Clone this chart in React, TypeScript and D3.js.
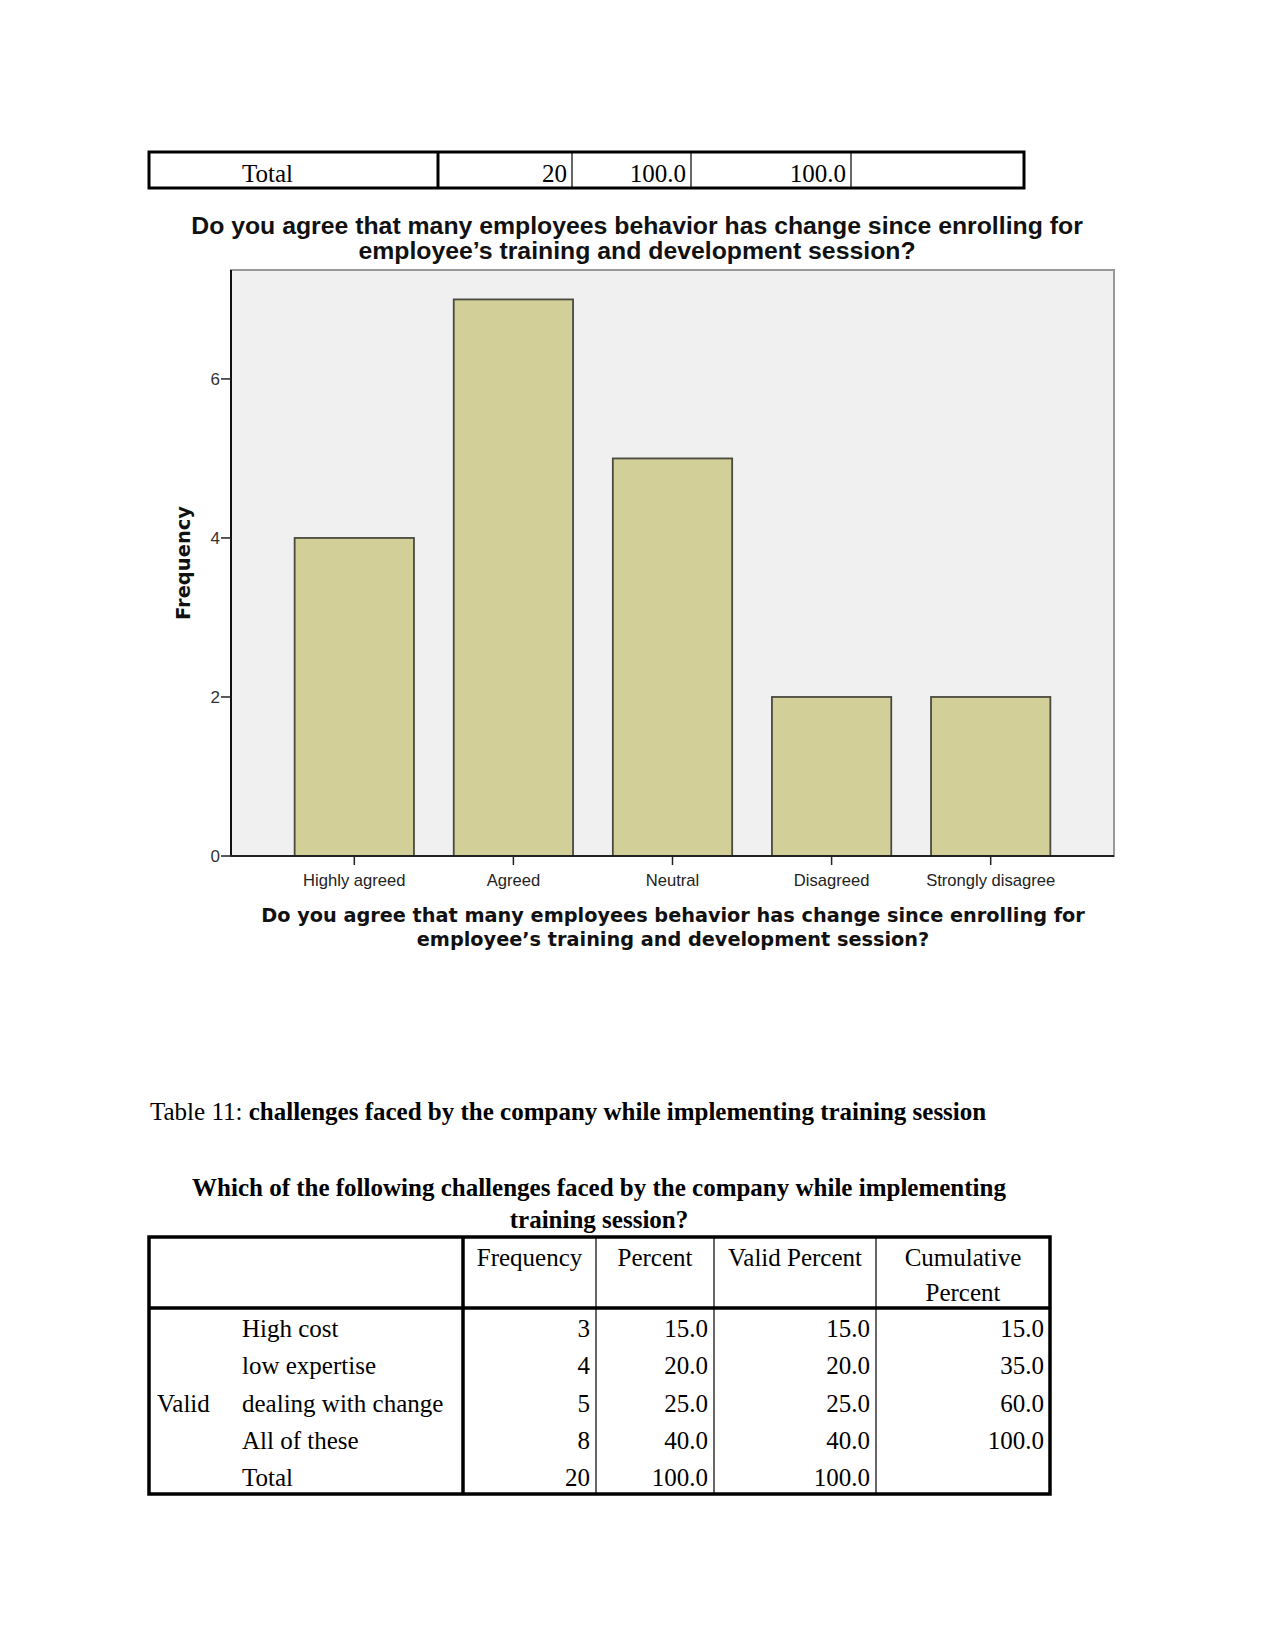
import React from "react";
import * as d3 from "d3";

const categories = ["Highly agreed", "Agreed", "Neutral", "Disagreed", "Strongly disagree"];
const frequencies = [4, 7, 5, 2, 2];
const yTicks = [0, 2, 4, 6];
const chartTitle = [
  "Do you agree that many employees behavior has change since enrolling for",
  "employee\u2019s training and development session?",
];
const axisTitle = [
  "Do you agree that many employees behavior has change since enrolling for",
  "employee\u2019s training and development session?",
];
const yLabel = "Frequency";

const topTableRow = ["Total", "20", "100.0", "100.0", ""];

const captionPrefix = "Table 11: ";
const captionBold = "challenges faced by the company while implementing training session";
const table2Title = [
  "Which of the following challenges faced by the company while implementing",
  "training session?",
];
const table2Headers = ["Frequency", "Percent", "Valid Percent", "Cumulative|Percent"];
const table2Labels = ["High cost", "low expertise", "dealing with change", "All of these", "Total"];
const table2Freq = ["3", "4", "5", "8", "20"];
const table2Pct = ["15.0", "20.0", "25.0", "40.0", "100.0"];
const table2Valid = ["15.0", "20.0", "25.0", "40.0", "100.0"];
const table2Cum = ["15.0", "35.0", "60.0", "100.0", ""];
const table2Group = "Valid";

const serif = "'Liberation Serif', 'Times New Roman', serif";
const sans = "'Liberation Sans', Arial, sans-serif";
const dejavu = "'DejaVu Sans', Verdana, sans-serif";

export default function App() {
  const W = 1275, H = 1650;
  // plot frame
  const L = 231, R = 1114, T = 270, B = 856;
  const x = d3.scaleBand<string>().domain(categories).range([L, R]).paddingInner(0.25).paddingOuter(0.4);
  const y = d3.scaleLinear().domain([0, 7.37]).range([B, T]);

  // top table
  const t1 = { x0: 149, x1: 1024, y0: 152, y1: 188 };
  const t1Cols = [149, 438, 572, 691, 851, 1024];

  // second table
  const t2 = { x0: 149, x1: 1050, y0: 1237, y1: 1494, hy: 1308 };
  const t2Cols = [149, 463, 596, 714, 876, 1050];
  const rowBase = [1337, 1374, 1412, 1449, 1486];
  const numCols = [table2Freq, table2Pct, table2Valid, table2Cum];

  return (
    <div style={{ position: "absolute", left: 0, top: 0 }}>
      <svg width={W} height={H} style={{ display: "block", background: "#fff" }}>
        {/* Top table fragment */}
        <g fontFamily={serif} fontSize={25} fill="#000">
          <rect x={t1.x0} y={t1.y0} width={t1.x1 - t1.x0} height={t1.y1 - t1.y0} fill="none" stroke="#000" strokeWidth={3} />
          {t1Cols.slice(1, -1).map((cx, i) => (
            <line key={i} x1={cx} x2={cx} y1={t1.y0} y2={t1.y1} stroke="#000" strokeWidth={i === 0 ? 3 : 1.2} />
          ))}
          <text x={242} y={182}>{topTableRow[0]}</text>
          {topTableRow.slice(1).map((v, i) => (
            <text key={i} x={t1Cols[i + 2] - 5} y={182} textAnchor="end">{v}</text>
          ))}
        </g>

        {/* Chart title */}
        <g fontFamily={sans} fontWeight="bold" fontSize={24.8} fill="#111" textAnchor="middle">
          {chartTitle.map((s, i) => (
            <text key={i} x={637} y={234 + i * 25}>{s}</text>
          ))}
        </g>

        {/* Plot area */}
        <rect x={L} y={T} width={R - L} height={B - T} fill="#f0f0f0" stroke="#999" strokeWidth={2} />
        {categories.map((c, i) => (
          <rect key={c} x={x(c)} y={y(frequencies[i])} width={x.bandwidth()} height={B - y(frequencies[i])}
            fill="#d3cf98" stroke="#4a4a40" strokeWidth={1.8} />
        ))}
        <line x1={L} x2={L} y1={T} y2={B} stroke="#111" strokeWidth={2} />
        <line x1={L} x2={R} y1={B} y2={B} stroke="#222" strokeWidth={2} />
        {yTicks.map((t) => (
          <g key={t}>
            <line x1={L - 10} x2={L} y1={y(t)} y2={y(t)} stroke="#222" strokeWidth={1.5} />
            <text x={L - 11} y={y(t) + 6} fontFamily={sans} fontSize={17} fill="#333" textAnchor="end">{t}</text>
          </g>
        ))}
        {categories.map((c) => {
          const cx = (x(c) as number) + x.bandwidth() / 2;
          return (
            <g key={c}>
              <line x1={cx} x2={cx} y1={B} y2={B + 9} stroke="#222" strokeWidth={1.5} />
              <text x={cx} y={886} fontFamily={sans} fontSize={16.6} fill="#222" textAnchor="middle">{c}</text>
            </g>
          );
        })}
        <text transform={`translate(190,${(T + B) / 2}) rotate(-90)`} fontFamily={dejavu} fontWeight="bold" fontSize={19.5}
          fill="#111" textAnchor="middle">{yLabel}</text>
        <g fontFamily={dejavu} fontWeight="bold" fontSize={19.3} fill="#111" textAnchor="middle">
          {axisTitle.map((s, i) => (
            <text key={i} x={673} y={922 + i * 24}>{s}</text>
          ))}
        </g>

        {/* Caption */}
        <text x={150} y={1120} fontFamily={serif} fontSize={25} fill="#000">
          {captionPrefix}<tspan fontWeight="bold">{captionBold}</tspan>
        </text>
        <g fontFamily={serif} fontSize={25} fontWeight="bold" textAnchor="middle" fill="#000">
          {table2Title.map((s, i) => (
            <text key={i} x={599} y={1196 + i * 32}>{s}</text>
          ))}
        </g>

        {/* Second table */}
        <g fontFamily={serif} fontSize={25} fill="#000">
          <rect x={t2.x0} y={t2.y0} width={t2.x1 - t2.x0} height={t2.y1 - t2.y0} fill="none" stroke="#000" strokeWidth={3.5} />
          <line x1={t2.x0} x2={t2.x1} y1={t2.hy} y2={t2.hy} stroke="#000" strokeWidth={3.5} />
          {t2Cols.slice(1, -1).map((cx, i) => (
            <line key={i} x1={cx} x2={cx} y1={t2.y0} y2={t2.y1} stroke="#000" strokeWidth={i === 0 ? 3.5 : 1.2} />
          ))}
          {table2Headers.map((h, i) => {
            const cx = (t2Cols[i + 1] + t2Cols[i + 2]) / 2;
            const parts = h.split("|");
            return parts.map((p, j) => (
              <text key={i + "-" + j} x={cx} y={1266 + j * 35} textAnchor="middle">{p}</text>
            ));
          })}
          <text x={157} y={rowBase[2]}>{table2Group}</text>
          {table2Labels.map((l, r) => (
            <text key={l} x={242} y={rowBase[r]}>{l}</text>
          ))}
          {numCols.map((col, c) =>
            col.map((v, r) => (
              <text key={c + "-" + r} x={t2Cols[c + 2] - 6} y={rowBase[r]} textAnchor="end">{v}</text>
            ))
          )}
        </g>
      </svg>
    </div>
  );
}
